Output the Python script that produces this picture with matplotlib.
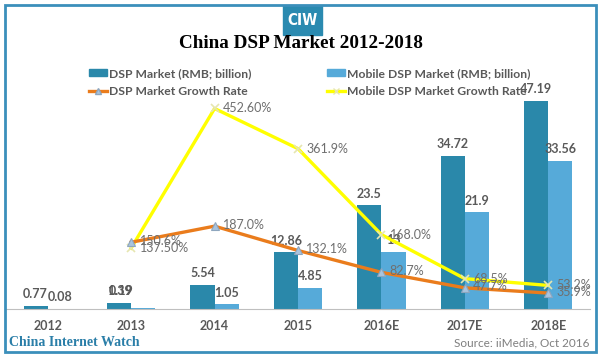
import matplotlib.pyplot as plt
import matplotlib.patches as mpatches
from matplotlib.lines import Line2D
import numpy as np

years = ['2012', '2013', '2014', '2015', '2016E', '2017E', '2018E']
dsp_market = [0.77, 1.39, 5.54, 12.86, 23.5, 34.72, 47.19]
mobile_market = [0.08, 0.19, 1.05, 4.85, 13, 21.9, 33.56]
dsp_growth = [None, 150.6, 187.0, 132.1, 82.7, 47.7, 35.9]
mobile_growth = [None, 137.5, 452.6, 361.9, 168.0, 68.5, 53.2]
dsp_growth_txt = ['', '150.6%', '187.0%', '132.1%', '82.7%', '47.7%', '35.9%']
mobile_growth_txt = ['', '137.50%', '452.60%', '361.9%', '168.0%', '68.5%', '53.2%']
dsp_bar_txt = ['0.77', '1.39', '5.54', '12.86', '23.5', '34.72', '47.19']
mobile_bar_txt = ['0.08', '0.19', '1.05', '4.85', '13', '21.9', '33.56']

c_dsp = '#2a88aa'
c_mob = '#56aad9'
c_orange = '#ea7c1c'
c_yellow = '#ffff00'
c_text = '#595959'
sans = ['Lato', 'DejaVu Sans']

fig = plt.figure(figsize=(6, 3.55), dpi=100)
ax = fig.add_axes([0.01, 46/355, 584/600, 214/355])
ax2 = ax.twinx()

x = np.arange(len(years))
w = 0.29
ax.bar(x - w/2, dsp_market, w, color=c_dsp)
ax.bar(x + w/2, mobile_market, w, color=c_mob)
ax.set_ylim(0, 214/4.41)
ax.set_xlim(-0.5, 6.5)

for i in range(len(years)):
    ax.annotate(dsp_bar_txt[i], (x[i] - w/2, dsp_market[i]), xytext=(0, 4),
                textcoords='offset points', ha='center', va='bottom',
                fontsize=9, fontweight='bold', color=c_text, family=sans)
    # 2013 mobile label sits on top of the DSP label in the original
    mx = x[i] - w/2 + 0.03 if i == 1 else x[i] + w/2
    my = dsp_market[i] if i == 1 else mobile_market[i]
    ax.annotate(mobile_bar_txt[i], (mx, my), xytext=(0, 4),
                textcoords='offset points', ha='center', va='bottom',
                fontsize=9, fontweight='bold', color=c_text, family=sans)

xs = x[1:]
ax2.plot(xs, mobile_growth[1:], color=c_yellow, lw=2.4, marker='x', ms=6,
         mec='#e6e6b0', mew=1.2, zorder=3)
ax2.plot(xs, dsp_growth[1:], color=c_orange, lw=2.4, marker='^', ms=5.5,
         mfc='#a9c4de', mec='#8ea6be', mew=0.8, zorder=4)
ax2.set_ylim(0, 214/0.443)

for i in range(1, len(years)):
    ax2.annotate(mobile_growth_txt[i], (x[i], mobile_growth[i]), xytext=(6, 0),
                 textcoords='offset points', ha='left', va='center',
                 fontsize=9, color='#6f6f6f', family=sans, zorder=6)
    ax2.annotate(dsp_growth_txt[i], (x[i], dsp_growth[i]), xytext=(6, 1),
                 textcoords='offset points', ha='left', va='center',
                 fontsize=9, color='#6f6f6f', family=sans, zorder=6)

for a in (ax, ax2):
    for s in ['top', 'left', 'right']:
        a.spines[s].set_visible(False)
    a.set_yticks([])
ax.spines['bottom'].set_color('#bfbfbf')
ax2.spines['bottom'].set_visible(False)
ax.set_xticks(x)
ax.set_xticklabels(years, fontsize=9, fontweight='bold', color=c_text, family=sans)
ax.tick_params(axis='x', length=0, pad=8)

handles = [
    mpatches.Patch(color=c_dsp, label='DSP Market (RMB; billion)'),
    Line2D([], [], color=c_orange, lw=2.4, marker='^', ms=5, mfc='#a9c4de',
           mec='#8ea6be', label='DSP Market Growth Rate'),
    mpatches.Patch(color=c_mob, label='Mobile DSP Market (RMB; billion)'),
    Line2D([], [], color=c_yellow, lw=2.4, marker='x', ms=5, mec='#e6e6b0',
           label='Mobile DSP Market Growth Rate'),
]
fig.legend(handles=handles, ncol=2, loc='upper left',
           bbox_to_anchor=(78/600, 1 - 57/355), frameon=False,
           prop={'family': sans, 'size': 8.7, 'weight': 'bold'},
           labelcolor=c_text, handlelength=1.5, handleheight=0.5,
           handletextpad=0.2, columnspacing=6.2, labelspacing=0.6)

fig.text(0.502, 1 - 43/355, 'China DSP Market 2012-2018', ha='center', va='center',
         fontsize=13.8, fontweight='bold', family='Liberation Serif', color='black')

fig.patches.append(mpatches.Rectangle((283/600, 1 - 35/355), 39/600, 29/355,
                                      transform=fig.transFigure, color='#2a8ab0'))
fig.text(302.5/600, 1 - 20.5/355, 'CIW', ha='center', va='center', color='white',
         fontsize=11, fontweight='bold', fontstretch='condensed', family='DejaVu Sans')

fig.patches.append(mpatches.Rectangle((4.5/600, 3.5/355), 591/600, 347/355,
                                      transform=fig.transFigure, fill=False,
                                      ec='#3b8fbb', lw=2))

fig.text(9/600, 1 - 343/355, 'China Internet Watch', ha='left', va='center',
         fontsize=10, fontweight='bold', family='Liberation Serif', color='#2a7ea8')
fig.text(590/600, 1 - 343/355, 'Source: iiMedia, Oct 2016', ha='right', va='center',
         fontsize=8.5, family=sans, color='#7f7f7f')

fig.savefig('out.png', dpi=100)
